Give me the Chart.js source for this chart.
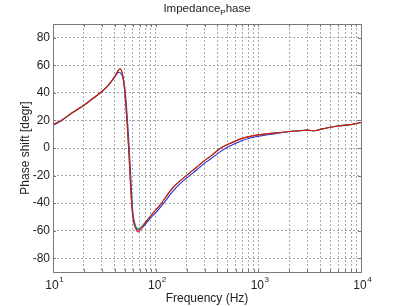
<!DOCTYPE html>
<html>
<head>
<meta charset="utf-8">
<script src="https://cdn.jsdelivr.net/npm/chart.js@4.4.1/dist/chart.umd.min.js"></script>
<style>
html,body{margin:0;padding:0;background:#fff;}
#wrap{width:400px;height:306px;position:relative;}
</style>
</head>
<body>
<div id="wrap"><canvas id="c" width="400" height="306"></canvas></div>
<script>
// ---- data ----
const titleMain = "Impedance";
const titleSub = "P";
const titleRest = "hase";
const xTitle = "Frequency (Hz)";
const yTitle = "Phase shift [degr]";
const xDecadeTicks = [10, 100, 1000, 10000];
const xMinorTicks = [20,30,40,50,60,70,80,90,200,300,400,500,600,700,800,900,2000,3000,4000,5000,6000,7000,8000,9000];
const yTicks = [-80, -60, -40, -20, 0, 20, 40, 60, 80];

const freqRed   = [10,12,15,20,25,30,35,40,43,45,47,49,51,53,55,57,59,61,64,67,70,75,80,90,100,114,130,150,175,215,250,300,350,420,500,700,1000,1500,2000,2500,3000,3500,4000,5000,6000,8000,10000];
const phaseRed  = [17,20,25,31,36.5,41,46,52,56,57.5,55,47,33,15,-5,-28,-45,-54,-58.5,-61,-60,-57,-54,-49,-45,-40,-34,-28,-23.5,-18,-14,-9,-5.5,-0.5,2.5,7,9.5,11,12,12.5,13,12.5,13.5,15,16,17,18.5];

const freqBlue  = [10,12,15,20,25,30,35,40,42,44,46,48,50,52,54,56,58,60,63,66,70,75,80,90,100,114,130,150,175,215,250,300,350,420,500,700,1000,1500,2000,2500,3000,3500,4000,5000,6000,8000,10000];
const phaseBlue = [16.5,19.5,25,31,36.5,41,46,51.5,54,55,54,51,44,30,12,-8,-30,-47,-55.5,-59,-59,-57.5,-55,-50.5,-47,-42,-36.5,-30.5,-25.5,-20,-16,-11,-7.5,-3,0.5,5.5,8.5,10.5,12,12.5,13,12.5,13.5,15,16,17,18.5];

const freqGreen  = [10,12,15,20,25,30,35,40,43,45,47,49,51,53,55,57,59,61,64,67,70,75,80,90,100,114,130,150,175,215,250,300,350,420,500,700,1000,1500,2000,2500,3000,3500,4000,5000,6000,8000,10000];
const phaseGreen = [17,20,25,31,36.5,41,46,52,56,57.5,55,47,33,15,-5,-28,-45,-53,-57,-58.5,-58,-56,-53.5,-49,-45,-40,-34,-28,-23.5,-18,-14,-9,-5.5,-0.5,2.5,7,9.5,11,12,12.5,13,12.5,13.5,15,16,17,18.5];

const colRed = '#e01010', colBlue = '#2828d8', colGreen = '#20a050';

function pts(xs, ys){ return xs.map((x,i)=>({x:x, y:ys[i]})); }

const FONT = '"Liberation Sans", Arial, sans-serif';
const TXT = '#222';

const decorPlugin = {
  id:'decor',
  afterDraw(chart){
    const ctx = chart.ctx, a = chart.chartArea;
    const xs = chart.scales.x;
    ctx.save();
    ctx.strokeStyle = '#7a7a7a';
    ctx.lineWidth = 1;
    ctx.setLineDash([]);
    ctx.strokeRect(Math.round(a.left)+0.5, Math.round(a.top)+0.5, Math.round(a.right-a.left), Math.round(a.bottom-a.top));
    ctx.beginPath();
    const allX = xDecadeTicks.concat(xMinorTicks);
    allX.forEach(v=>{
      const px = Math.round(xs.getPixelForValue(v))+0.5;
      ctx.moveTo(px, a.bottom); ctx.lineTo(px, a.bottom-3);
      ctx.moveTo(px, a.top); ctx.lineTo(px, a.top+3);
    });
    yTicks.forEach(v=>{
      const py = Math.round(chart.scales.y.getPixelForValue(v))+0.5;
      ctx.moveTo(a.left, py); ctx.lineTo(a.left+3, py);
      ctx.moveTo(a.right, py); ctx.lineTo(a.right-3, py);
    });
    ctx.stroke();

    ctx.fillStyle = TXT;
    ctx.textBaseline = 'alphabetic';
    xDecadeTicks.forEach(v=>{
      const px = xs.getPixelForValue(v);
      const exp = String(Math.round(Math.log10(v)));
      ctx.font = '12px ' + FONT;
      const w = ctx.measureText('10').width;
      ctx.textAlign = 'left';
      ctx.fillText('10', px - w/2 - 1, 289);
      ctx.font = '8px ' + FONT;
      ctx.fillText(exp, px + w/2 - 0.5, 282);
    });
    ctx.font = '12px ' + FONT;
    ctx.textAlign = 'center';
    ctx.fillText(xTitle, (a.left+a.right)/2, 302);
    ctx.save();
    ctx.translate(29, (a.top+a.bottom)/2);
    ctx.rotate(-Math.PI/2);
    ctx.textAlign = 'center';
    ctx.fillText(yTitle, 0, 0);
    ctx.restore();
    ctx.font = '11.5px ' + FONT;
    const w1 = ctx.measureText(titleMain).width;
    const w3 = ctx.measureText(titleRest).width;
    ctx.font = '8px ' + FONT;
    const w2 = ctx.measureText(titleSub).width;
    let x0 = (a.left+a.right)/2 - (w1+w2+w3)/2;
    ctx.textAlign = 'left';
    ctx.font = '11.5px ' + FONT;
    ctx.fillText(titleMain, x0, 12);
    ctx.font = '8px ' + FONT;
    ctx.fillText(titleSub, x0 + w1, 15);
    ctx.font = '11.5px ' + FONT;
    ctx.fillText(titleRest, x0 + w1 + w2, 12);
    ctx.restore();
  }
};

const ds = (label, data, color) => ({
  label, data, borderColor: color, backgroundColor: color,
  borderWidth: 1.1, pointRadius: 0, showLine: true,
  cubicInterpolationMode: 'monotone', fill: false
});

new Chart(document.getElementById('c'), {
  type: 'scatter',
  data: {
    datasets: [
      ds('red', pts(freqRed, phaseRed), colRed),
      ds('green', pts(freqGreen, phaseGreen), colGreen),
      ds('blue', pts(freqBlue, phaseBlue), colBlue)
    ]
  },
  options: {
    responsive: false,
    animation: false,
    devicePixelRatio: 1,
    layout: { padding: { top: 24, right: 39, left: 0, bottom: 0 } },
    plugins: { legend: { display: false }, tooltip: { enabled: false }, title: { display: false } },
    scales: {
      x: {
        type: 'logarithmic', min: 10, max: 10000,
        afterBuildTicks: s => { s.ticks = xDecadeTicks.concat(xMinorTicks).sort((p,q)=>p-q).map(v=>({value:v})); },
        afterFit: s => { s.height = 34; },
        ticks: { display: true, callback: () => '', font: { size: 1 } },
        grid: { color: '#a8a8a8', lineWidth: 1, drawTicks: false },
        border: { display: false, dash: [2,2] }
      },
      y: {
        min: -90, max: 90,
        afterBuildTicks: s => { s.ticks = yTicks.map(v=>({value:v})); },
        afterFit: s => { s.width = 53; },
        ticks: { color: TXT, font: { family: FONT, size: 12 }, padding: 3 },
        grid: { color: '#a8a8a8', lineWidth: 1, drawTicks: false },
        border: { display: false, dash: [2,2] }
      }
    }
  },
  plugins: [decorPlugin]
});
</script>
</body>
</html>
